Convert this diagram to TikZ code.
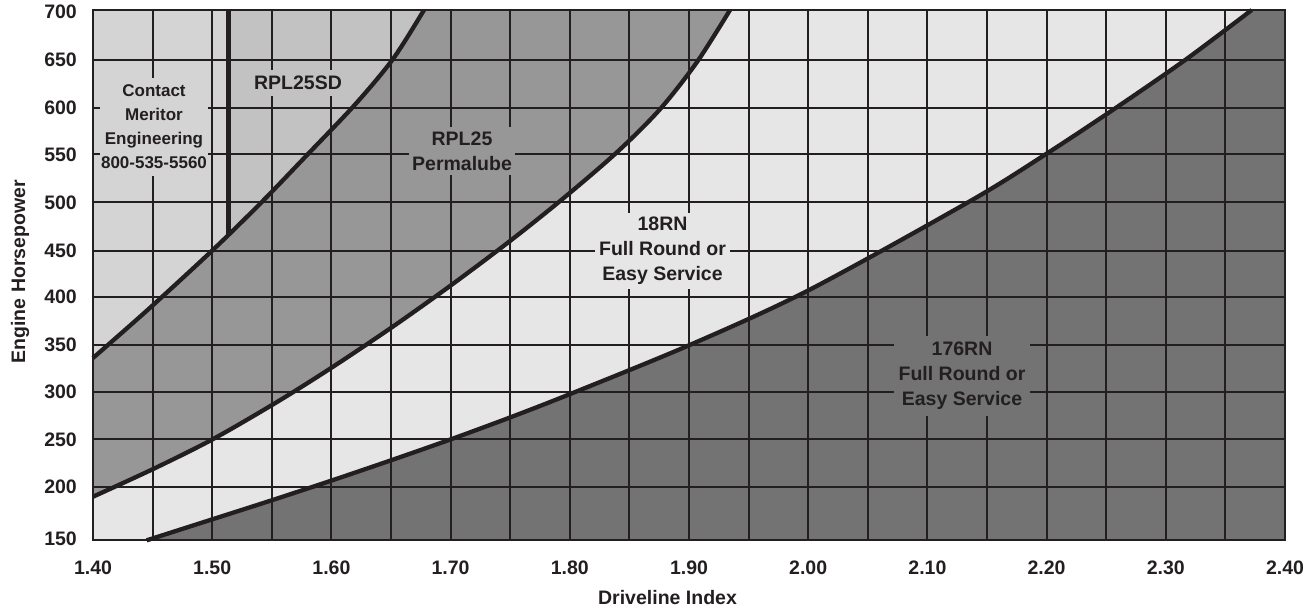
\documentclass[tikz,border=0pt]{standalone}
\usepackage{fontspec}
\setmainfont{Liberation Sans}
\definecolor{gridc}{HTML}{231F20}
\definecolor{textc}{HTML}{231F20}
\definecolor{cCont}{HTML}{D4D4D4}
\definecolor{cSD}{HTML}{C2C2C2}
\definecolor{cRPL}{HTML}{979797}
\definecolor{cEighteen}{HTML}{E6E6E6}
\definecolor{cOneSeven}{HTML}{737373}
\newcommand\curvA{plot[smooth] coordinates {(93,358) (150,307.8) (213,249.8) (262,201.8) (308,154) (355,104.6) (393,59) (424,10)}}
\newcommand\curvB{plot[smooth] coordinates {(93,496.7) (154,468.6) (213,439.1) (277,402) (332,367.4) (392,327.2) (450,286) (510,241) (563,198.6) (617,152.2) (660,109.2) (697,62) (730,10)}}
\newcommand\curvC{plot[smooth] coordinates {(146.7,540.3) (213,519.1) (272.6,500) (331.4,480.6) (391,460.3) (450.6,439.4) (510.7,417.2) (570.7,393.8) (689,345.3) (808.7,290.2) (971.7,200.2) (1045,154.7) (1113.3,109.6) (1185,60.1) (1251.7,10)}}
\begin{document}
\begin{tikzpicture}[x=1pt,y=-1pt,
  gridline/.style={line width=2pt, draw=gridc},
  curveline/.style={line width=4.3pt, draw=gridc, line join=round},
  lbl/.style={font=\fontsize{19.5}{25}\selectfont\bfseries, text=textc, align=center, inner sep=0pt},
  tick/.style={font=\fontsize{19.5}{22}\selectfont\bfseries, text=textc, inner sep=0pt}]
\useasboundingbox (0,0) rectangle (1305,613);
% regions
\fill[cEighteen] (93,10) rectangle (1285,540.3);
\fill[cOneSeven] \curvC -- (1285,10) -- (1285,540.3) -- cycle;
\fill[cRPL] \curvB -- (93,10) -- cycle;
\fill[cSD] \curvA -- (93,10) -- cycle;
\begin{scope}
  \clip \curvA -- (93,10) -- cycle;
  \fill[cCont] (93,0) rectangle (228.3,420);
\end{scope}
% grid
\foreach \i in {1,...,19} \draw[gridline] ({93+59.6*\i},10) -- ({93+59.6*\i},540.3);
\foreach \yy in {486.7,439.3,391.7,345,296.7,250.7,202.3,154.3,107.7,60} \draw[gridline] (93,\yy) -- (1285,\yy);
% curves
\draw[curveline] \curvA;
\draw[curveline] \curvB;
\draw[curveline] \curvC;
\draw[line width=4.7pt, draw=gridc] (228.3,10) -- (228.3,236);
\draw[gridline] (93,10) rectangle (1285,540.3);
% labels
\node[lbl, fill=cCont, font=\fontsize{17}{24}\selectfont\bfseries, inner xsep=1pt, inner ysep=6.5pt] (contact) at (154,127) {Contact\\Meritor\\Engineering\\800-535-5560};
\node[lbl, fill=cSD, inner xsep=3pt, inner ysep=6pt] (sd) at (298,83) {RPL25SD};
\node[lbl, fill=cRPL, inner xsep=3pt, inner ysep=5pt] (rpl) at (462,151) {RPL25\\Permalube};
\node[lbl, fill=cEighteen, inner xsep=4pt, inner ysep=4pt] (eighteen) at (662.5,251) {18RN\\Full Round or\\Easy Service};
\node[lbl, fill=cOneSeven, inner xsep=4.5pt, inner ysep=6pt] (onesix) at (962,376) {176RN\\Full Round or\\Easy Service};
% y ticks
\node[tick, anchor=east] (y700) at (77,11.5) {700};
\node[tick, anchor=east] (y650) at (77,60) {650};
\node[tick, anchor=east] (y600) at (77,107.7) {600};
\node[tick, anchor=east] (y550) at (77,154.3) {550};
\node[tick, anchor=east] (y500) at (77,202.3) {500};
\node[tick, anchor=east] (y450) at (77,250.7) {450};
\node[tick, anchor=east] (y400) at (77,296.7) {400};
\node[tick, anchor=east] (y350) at (77,345) {350};
\node[tick, anchor=east] (y300) at (77,391.7) {300};
\node[tick, anchor=east] (y250) at (77,439.3) {250};
\node[tick, anchor=east] (y200) at (77,486.7) {200};
\node[tick, anchor=east] (y150) at (77,538.5) {150};
% x ticks
\foreach \lab [count=\k from 0] in {1.40,1.50,1.60,1.70,1.80,1.90,2.00,2.10,2.20,2.30,2.40}
  \node[tick] (x\k) at ({93+119.2*\k},567.5) {\lab};
% axis titles
\node[tick] (xtitle) at (667.5,597.5) {Driveline Index};
\node[tick, rotate=90, anchor=base] (ytitle) at (25,271.7) {Engine Horsepower};
\end{tikzpicture}
\end{document}
